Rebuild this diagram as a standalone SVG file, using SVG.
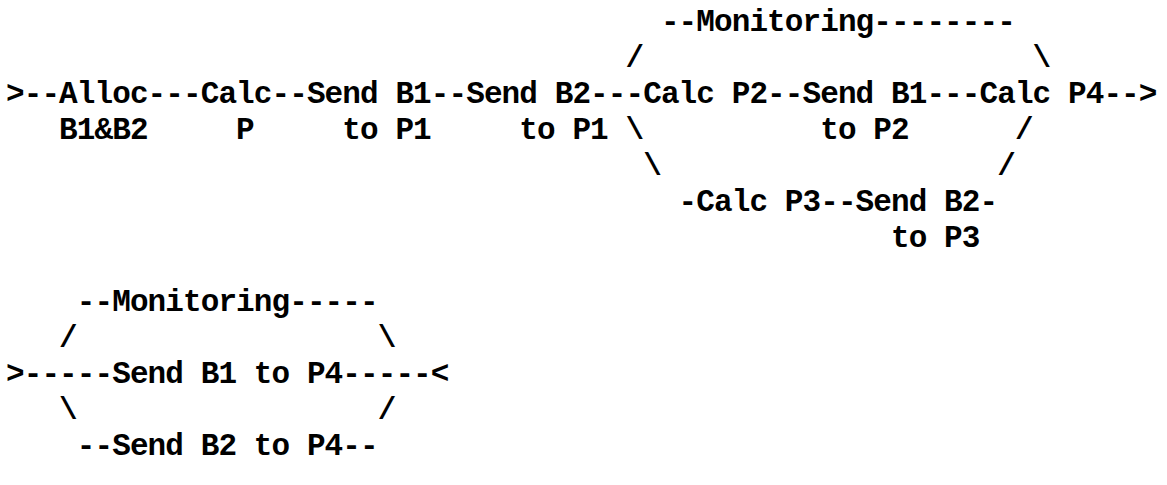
<svg xmlns="http://www.w3.org/2000/svg" width="1167" height="485" viewBox="0 0 1167 485">
<style>
text{font-family:"Liberation Mono","DejaVu Sans Mono",monospace;font-size:31px;letter-spacing:-0.9px;font-weight:bold;fill:#000}
</style>
<rect width="1167" height="485" fill="#fff"/>
<g id="connectors">
<text x="660.9" y="31">--</text>
<text x="873.3" y="31">--------</text>
<text x="625.5" y="67">/</text>
<text x="1032.6" y="67">\</text>
<text x="6" y="103">&gt;--</text>
<text x="147.6" y="103">---</text>
<text x="271.5" y="103">--</text>
<text x="430.8" y="103">--</text>
<text x="590.1" y="103">---</text>
<text x="767.1" y="103">--</text>
<text x="926.4" y="103">---</text>
<text x="1103.4" y="103">--&gt;</text>
<text x="625.5" y="139">\</text>
<text x="1014.9" y="139">/</text>
<text x="643.2" y="175">\</text>
<text x="997.2" y="175">/</text>
<text x="678.6" y="211">-</text>
<text x="820.2" y="211">--</text>
<text x="979.5" y="211">-</text>
<text x="76.8" y="311">--</text>
<text x="289.2" y="311">-----</text>
<text x="59.1" y="347">/</text>
<text x="377.7" y="347">\</text>
<text x="6" y="383">&gt;-----</text>
<text x="342.3" y="383">-----&lt;</text>
<text x="59.1" y="419">\</text>
<text x="377.7" y="419">/</text>
<text x="76.8" y="455">--</text>
<text x="342.3" y="455">--</text>
</g>
<g id="monitoring1"><text x="696.3" y="31">Monitoring</text></g>
<g id="alloc"><text x="59.1" y="103">Alloc</text><text x="59.1" y="139">B1&amp;B2</text></g>
<g id="calc-p"><text x="200.7" y="103">Calc</text><text x="236.1" y="139">P</text></g>
<g id="send-b1-p1"><text x="306.9" y="103">Send B1</text><text x="342.3" y="139">to P1</text></g>
<g id="send-b2-p1"><text x="466.2" y="103">Send B2</text><text x="519.3" y="139">to P1</text></g>
<g id="calc-p2"><text x="643.2" y="103">Calc P2</text></g>
<g id="send-b1-p2"><text x="802.5" y="103">Send B1</text><text x="820.2" y="139">to P2</text></g>
<g id="calc-p4"><text x="979.5" y="103">Calc P4</text></g>
<g id="calc-p3"><text x="696.3" y="211">Calc P3</text></g>
<g id="send-b2-p3"><text x="855.6" y="211">Send B2</text><text x="891" y="247">to P3</text></g>
<g id="monitoring2"><text x="112.2" y="311">Monitoring</text></g>
<g id="send-b1-p4"><text x="112.2" y="383">Send B1 to P4</text></g>
<g id="send-b2-p4"><text x="112.2" y="455">Send B2 to P4</text></g>
</svg>
